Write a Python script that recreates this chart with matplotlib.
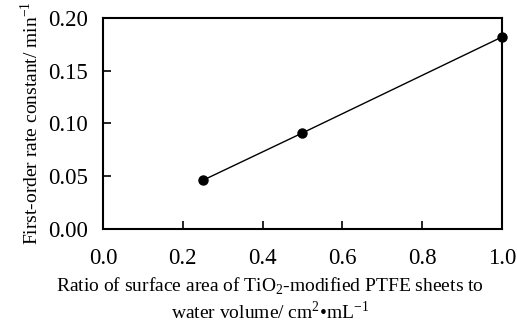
import matplotlib
matplotlib.use("Agg")
import matplotlib.pyplot as plt

ratio = [0.25, 0.5, 1.0]
rate_constant = [0.046, 0.091, 0.182]
xticks = [0.0, 0.2, 0.4, 0.6, 0.8, 1.0]
yticks = [0.00, 0.05, 0.10, 0.15, 0.20]

plt.rcParams['font.family'] = ['Liberation Serif', 'DejaVu Serif']
plt.rcParams['mathtext.fontset'] = 'custom'
plt.rcParams['mathtext.rm'] = 'Liberation Serif'

fig = plt.figure(figsize=(5.17, 3.27), dpi=100)
ax = fig.add_axes([0.199, 0.300, 0.772, 0.645])
ax.plot(ratio, rate_constant, color='black', lw=1.0, marker='o', ms=6.5, clip_on=False)
ax.set_xlim(0, 1.0)
ax.set_ylim(0, 0.20)
ax.set_xticks(xticks)
ax.set_xticklabels([f"{v:.1f}" for v in xticks])
ax.set_yticks(yticks)
ax.set_yticklabels([f"{v:.2f}" for v in yticks])
ax.tick_params(direction='in', length=6, width=1.2, labelsize=16.5)
ax.tick_params(axis='y', pad=11)
ax.tick_params(axis='x', pad=14)
for s in ax.spines.values():
    s.set_linewidth(1.5)
ax.set_ylabel("First-order rate constant/ min$^{\\mathregular{-1}}$", fontsize=14, labelpad=4)
ax.set_xlabel("Ratio of surface area of TiO$_{\\mathregular{2}}$-modified PTFE sheets to\nwater volume/ cm$^{\\mathregular{2}}$\u2022mL$^{\\mathregular{-1}}$",
              fontsize=14, linespacing=1.2, va='top', ha='center')
ax.xaxis.set_label_coords(0.418, -0.22)
fig.savefig("out.png", dpi=100)
